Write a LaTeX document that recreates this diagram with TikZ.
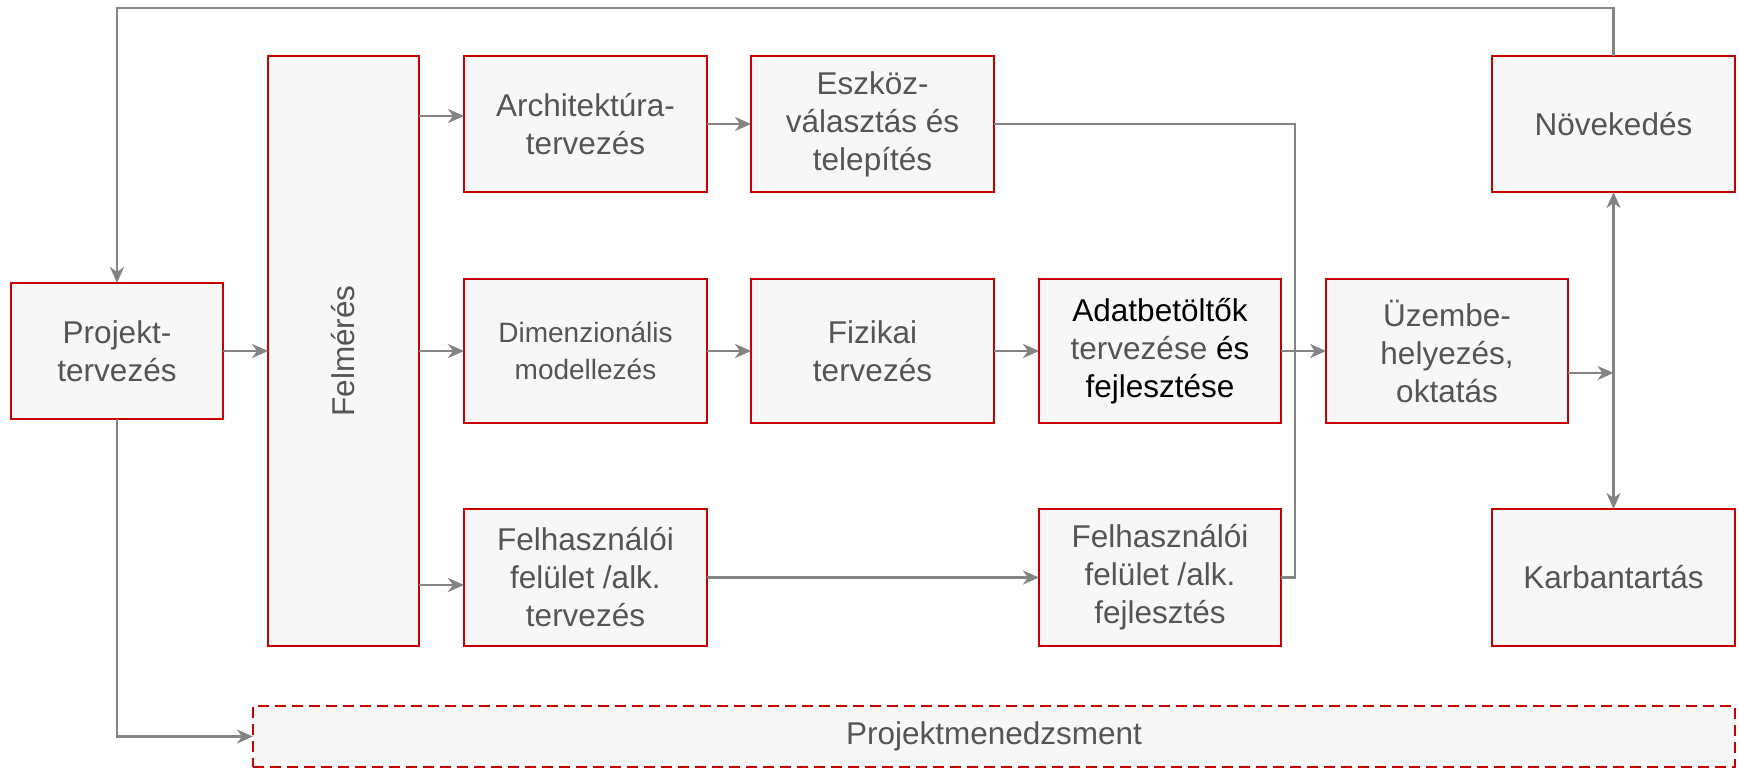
\documentclass[tikz,border=0pt]{standalone}
\usepackage{fontspec}
\setmainfont{Liberation Sans}
\usepackage{graphicx}
\usetikzlibrary{arrows.meta,calc}
\definecolor{boxred}{HTML}{C80000}
\definecolor{boxfill}{HTML}{F7F7F7}
\definecolor{conncol}{HTML}{848484}
\definecolor{txt}{HTML}{555555}
\begin{document}
\begin{tikzpicture}[x=1pt,y=-1pt,
  box/.style={draw=boxred, line width=2.2pt, fill=boxfill, inner sep=0pt, outer sep=0pt,
    align=center, text=txt, font=\fontsize{31.5}{38}\selectfont},
  conn/.style={draw=conncol, line width=2.6pt},
  arr/.style={conn, -{Stealth[length=16pt,width=14pt,inset=5pt]}},
  darr/.style={conn, {Stealth[length=16pt,width=14pt,inset=5pt]}-{Stealth[length=16pt,width=14pt,inset=5pt]}},
  dashbox/.style={box, dash pattern=on 11pt off 6pt}
]
\useasboundingbox (0,0) rectangle (1739,770);

\node[box, minimum width=212pt, minimum height=136pt] (proj) at (117,351) {Projekt-\\tervezés};
\node[box, minimum width=151pt, minimum height=590pt] (felm) at (343.5,351) {\rotatebox{90}{Felmérés}};
\node[box, minimum width=243pt, minimum height=136pt] (arch) at (585.5,124) {Architektúra-\\tervezés};
\node[box, minimum width=243pt, minimum height=136pt] (eszk) at (872.5,124) {Eszköz-\\választás és\\telepítés};
\node[box, minimum width=243pt, minimum height=144pt, font=\fontsize{28}{37}\selectfont] (dim) at (585.5,351) {Dimenzionális\\modellezés};
\node[box, minimum width=243pt, minimum height=144pt] (fiz) at (872.5,351) {Fizikai\\tervezés};
\node[box, minimum width=242pt, minimum height=144pt, text=black] (adat) at (1160,351) {Adatbetöltők\\{\color{txt}tervezése} és\\fejlesztése};
\node[box, minimum width=242pt, minimum height=144pt] (uzem) at (1447,351) {Üzembe-\\helyezés,\\oktatás};
\node[box, minimum width=243pt, minimum height=137pt] (felht) at (585.5,577.5) {Felhasználói\\felület /alk.\\tervezés};
\node[box, minimum width=242pt, minimum height=137pt] (felhf) at (1160,577.5) {Felhasználói\\felület /alk.\\fejlesztés};
\node[box, minimum width=243pt, minimum height=136pt] (nov) at (1613.5,124) {Növekedés};
\node[box, minimum width=243pt, minimum height=137pt] (karb) at (1613.5,577.5) {Karbantartás};
\node[dashbox, minimum width=1482pt, minimum height=61pt] (pm) at (994,736.5) {Projektmenedzsment};

\coordinate (topline) at (0,8);
\coordinate (jx) at (1295,351);
\coordinate (a1) at ([yshift=8pt]arch.west);
\coordinate (a3) at ([yshift=-7.5pt]felht.west);
\coordinate (u1) at ([yshift=-22pt]uzem.east);

\draw[arr] (proj) -- (felm.west |- proj);
\draw[arr] (felm.east |- a1) -- (a1);
\draw[arr] (felm.east |- dim) -- (dim);
\draw[arr] (felm.east |- a3) -- (a3);
\draw[arr] (arch) -- (eszk);
\draw[arr] (dim) -- (fiz);
\draw[arr] (fiz) -- (adat);
\draw[arr] (adat) -- (uzem);
\draw[arr] (felht.east) -- (felhf.west);
\draw[conn] (eszk.east) -- (eszk.east -| jx) -- (jx |- felhf.east) -- (felhf.east);
\draw[arr] (u1) -- (u1 -| nov.south);
\draw[darr] (nov.south) -- (karb.north);
\draw[arr] (nov.north) -- (nov.north |- topline) -| (proj.north);
\draw[arr] (proj.south) |- (pm.west);
\end{tikzpicture}
\end{document}
